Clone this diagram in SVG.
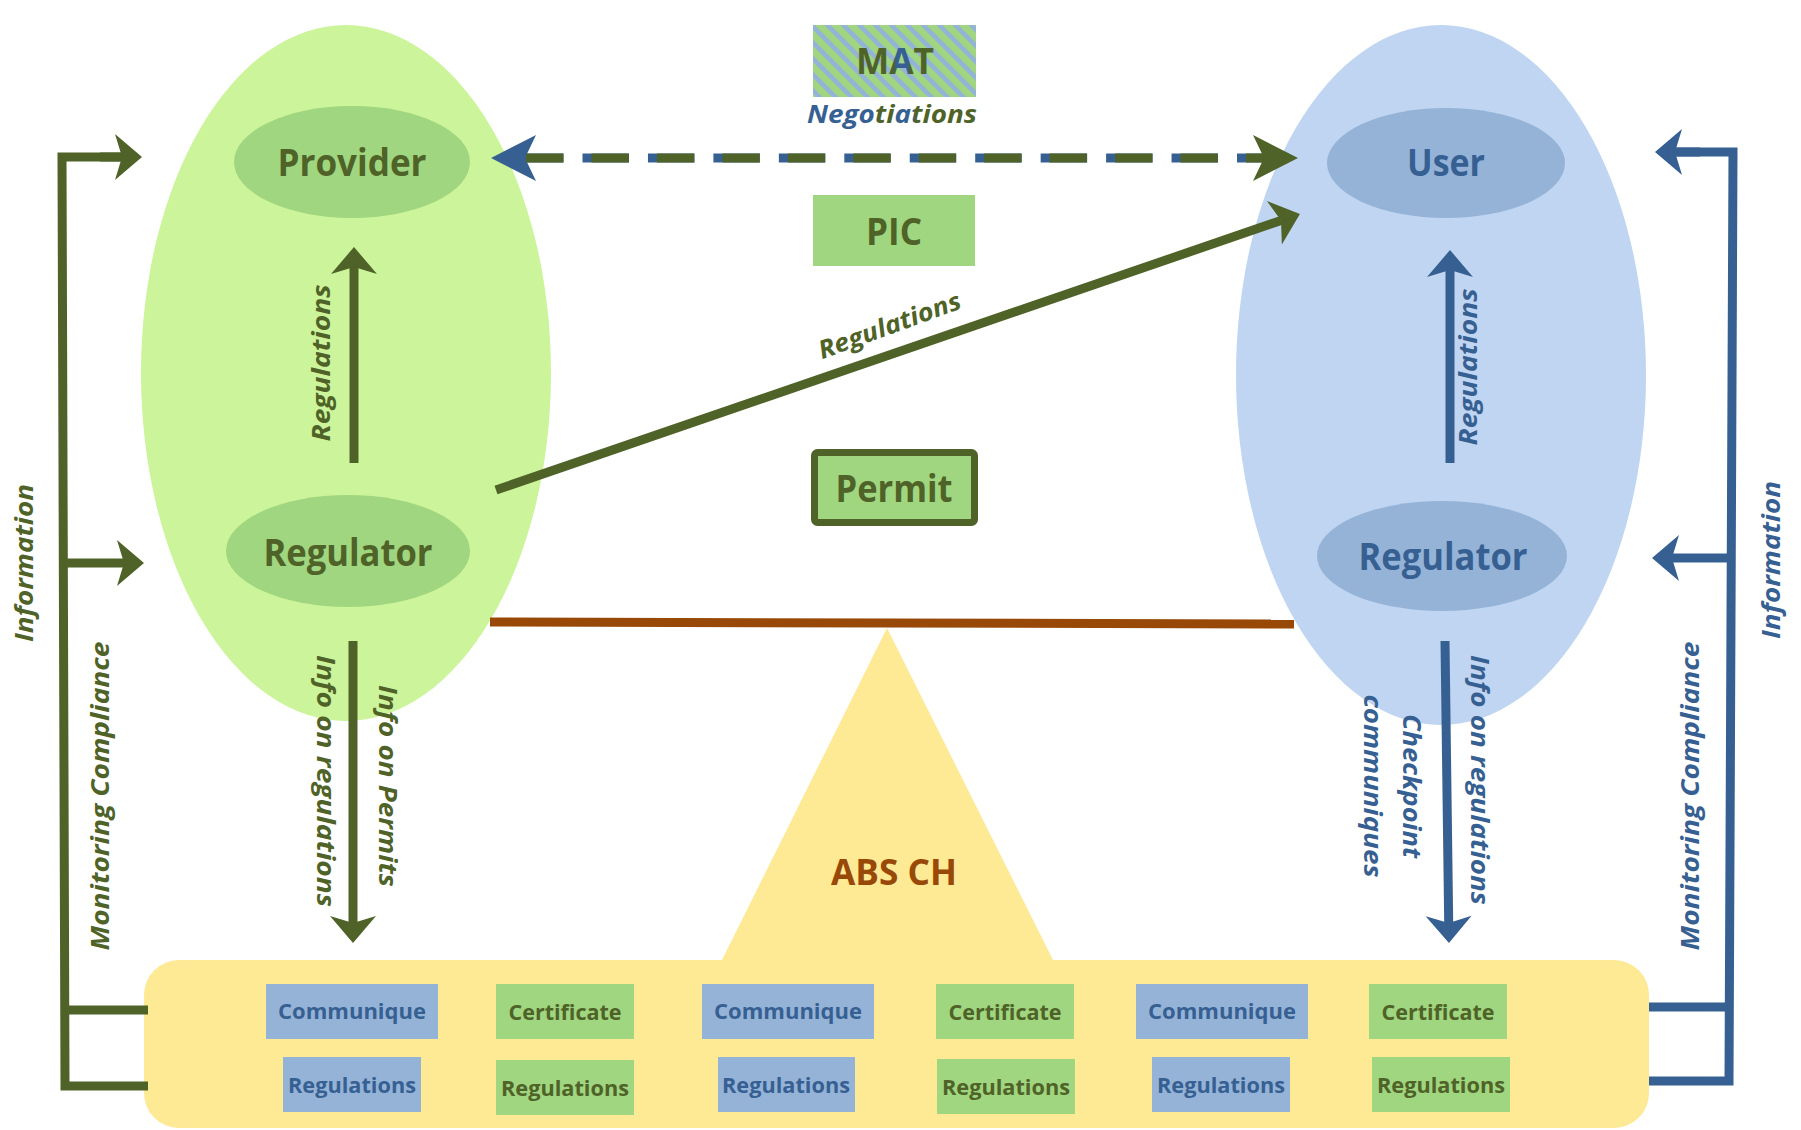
<svg xmlns="http://www.w3.org/2000/svg" width="1801" height="1130" viewBox="0 0 1801 1130">
<defs>
<style>
.lbl{font-family:'Open Sans','Noto Sans',Lato,sans-serif;font-weight:700;text-anchor:middle;}
.it{font-style:italic;}
.g{fill:#4f6228;}
.b{fill:#376092;}
.big{font-size:37px;}
.mid{font-size:25px;}
.box{font-size:22px;}
.cg{stroke:#4f6228;fill:none;stroke-width:9;}
.cb{stroke:#376092;fill:none;stroke-width:9;}
.bxb{fill:#95b3d7;}
.bxg{fill:#9fd67f;}
</style>
<marker id="ag" markerUnits="userSpaceOnUse" orient="auto" refX="7" refY="0" markerWidth="30" markerHeight="50" overflow="visible"><path d="M27,0 L0,-23 L7,0 L0,23 Z" fill="#4f6228"/></marker>
<marker id="ab" markerUnits="userSpaceOnUse" orient="auto" refX="7" refY="0" markerWidth="30" markerHeight="50" overflow="visible"><path d="M27,0 L0,-23 L7,0 L0,23 Z" fill="#376092"/></marker>
<marker id="dg" markerUnits="userSpaceOnUse" orient="auto" refX="11" refY="0" markerWidth="50" markerHeight="50" overflow="visible"><path d="M45,0 L0,-23 L11,0 L0,23 Z" fill="#4f6228"/></marker>
<marker id="db" markerUnits="userSpaceOnUse" orient="auto-start-reverse" refX="11" refY="0" markerWidth="50" markerHeight="50" overflow="visible"><path d="M45,0 L0,-23 L11,0 L0,23 Z" fill="#376092"/></marker>
<pattern id="stripes" patternUnits="userSpaceOnUse" width="11.3" height="40" patternTransform="rotate(-45)"><rect width="11.3" height="40" fill="#9fd67f"/><rect width="4.6" height="40" fill="#95b3d7"/></pattern>
<linearGradient id="matfill" gradientUnits="userSpaceOnUse" x1="856" y1="0" x2="934" y2="0">
<stop offset="0" stop-color="#4f6228"/><stop offset="0.5" stop-color="#4f6228"/><stop offset="0.5" stop-color="#376092"/><stop offset="0.68" stop-color="#376092"/><stop offset="0.68" stop-color="#4f6228"/><stop offset="1" stop-color="#4f6228"/>
</linearGradient>
<linearGradient id="negfill" gradientUnits="userSpaceOnUse" x1="807" y1="0" x2="977" y2="0">
<stop offset="0" stop-color="#376092"/><stop offset="0.41" stop-color="#376092"/><stop offset="0.41" stop-color="#4f6228"/><stop offset="0.52" stop-color="#4f6228"/><stop offset="0.52" stop-color="#376092"/><stop offset="0.63" stop-color="#376092"/><stop offset="0.63" stop-color="#4f6228"/><stop offset="1" stop-color="#4f6228"/>
</linearGradient>
</defs>
<rect width="1801" height="1130" fill="#ffffff"/>

<g id="provider-side">
<ellipse cx="346" cy="373" rx="205" ry="348" fill="#ccf49a"/>
</g>
<g id="user-side">
<ellipse cx="1441" cy="375" rx="205" ry="350" fill="#bfd5f1"/>
</g>

<g id="abs-ch">
<polygon points="887,628 721,962 1054,962" fill="#fee994"/>
<rect x="144" y="960" width="1505" height="168" rx="35" fill="#fee994"/>
<text class="lbl" x="894" y="885" font-size="35" fill="#984807" textLength="126" lengthAdjust="spacingAndGlyphs">ABS CH</text>
</g>

<g id="provider">
<ellipse cx="352" cy="162" rx="118" ry="56" fill="#9fd67f"/>
<text class="lbl big g" x="352" y="176" textLength="149" lengthAdjust="spacingAndGlyphs">Provider</text>
</g>
<g id="regulator-left">
<ellipse cx="348" cy="551" rx="122" ry="56" fill="#9fd67f"/>
<text class="lbl big g" x="348" y="566" textLength="169" lengthAdjust="spacingAndGlyphs">Regulator</text>
</g>
<g id="user">
<ellipse cx="1446" cy="163" rx="119" ry="55" fill="#95b3d7"/>
<text class="lbl big b" x="1446" y="176" textLength="78" lengthAdjust="spacingAndGlyphs">User</text>
</g>
<g id="regulator-right">
<ellipse cx="1442" cy="556" rx="125" ry="55" fill="#95b3d7"/>
<text class="lbl big b" x="1443" y="570" textLength="169" lengthAdjust="spacingAndGlyphs">Regulator</text>
</g>

<g id="mat">
<rect x="813" y="25" width="163" height="72" fill="url(#stripes)"/>
<text class="lbl" x="895" y="74" font-size="36" fill="url(#matfill)" textLength="78" lengthAdjust="spacingAndGlyphs">MAT</text>
<text class="lbl it" x="892" y="123" font-size="25" fill="url(#negfill)" textLength="170" lengthAdjust="spacingAndGlyphs">Negotiations</text>
</g>
<g id="pic">
<rect x="813" y="195" width="162" height="71" fill="#9fd67f"/>
<text class="lbl big g" x="894" y="245" textLength="56" lengthAdjust="spacingAndGlyphs">PIC</text>
</g>
<g id="permit">
<rect x="814.5" y="452.5" width="160" height="70" rx="3" fill="#9fd67f" stroke="#4f6228" stroke-width="7"/>
<text class="lbl big g" x="894" y="502" textLength="117" lengthAdjust="spacingAndGlyphs">Permit</text>
</g>

<g id="boxes">
<rect class="bxb" x="266" y="984" width="172" height="55"/>
<text class="lbl box b" x="352" y="1019" textLength="148" lengthAdjust="spacingAndGlyphs">Communique</text>
<rect class="bxg" x="496" y="984" width="138" height="55"/>
<text class="lbl box g" x="565" y="1020" textLength="113" lengthAdjust="spacingAndGlyphs">Certificate</text>
<rect class="bxb" x="702" y="984" width="172" height="55"/>
<text class="lbl box b" x="788" y="1019" textLength="148" lengthAdjust="spacingAndGlyphs">Communique</text>
<rect class="bxg" x="936" y="984" width="138" height="55"/>
<text class="lbl box g" x="1005" y="1020" textLength="113" lengthAdjust="spacingAndGlyphs">Certificate</text>
<rect class="bxb" x="1136" y="984" width="172" height="55"/>
<text class="lbl box b" x="1222" y="1019" textLength="148" lengthAdjust="spacingAndGlyphs">Communique</text>
<rect class="bxg" x="1369" y="984" width="138" height="55"/>
<text class="lbl box g" x="1438" y="1020" textLength="113" lengthAdjust="spacingAndGlyphs">Certificate</text>

<rect class="bxb" x="283" y="1057" width="138" height="55"/>
<text class="lbl box b" x="352" y="1093" textLength="128" lengthAdjust="spacingAndGlyphs">Regulations</text>
<rect class="bxg" x="496" y="1060" width="138" height="55"/>
<text class="lbl box g" x="565" y="1096" textLength="128" lengthAdjust="spacingAndGlyphs">Regulations</text>
<rect class="bxb" x="718" y="1057" width="137" height="55"/>
<text class="lbl box b" x="786" y="1093" textLength="128" lengthAdjust="spacingAndGlyphs">Regulations</text>
<rect class="bxg" x="937" y="1059" width="138" height="55"/>
<text class="lbl box g" x="1006" y="1095" textLength="128" lengthAdjust="spacingAndGlyphs">Regulations</text>
<rect class="bxb" x="1152" y="1057" width="138" height="55"/>
<text class="lbl box b" x="1221" y="1093" textLength="128" lengthAdjust="spacingAndGlyphs">Regulations</text>
<rect class="bxg" x="1372" y="1057" width="138" height="55"/>
<text class="lbl box g" x="1441" y="1093" textLength="128" lengthAdjust="spacingAndGlyphs">Regulations</text>
</g>

<g id="connectors">
<line x1="490" y1="622" x2="1294" y2="624" stroke="#984807" stroke-width="9"/>
<line x1="525" y1="158" x2="1264" y2="158" stroke="#376092" stroke-width="9" stroke-dasharray="46.5 18.95" stroke-dashoffset="7.95" marker-start="url(#db)"/>
<line x1="525" y1="158" x2="1264" y2="158" stroke="#4f6228" stroke-width="9" stroke-dasharray="37.3 28.15" stroke-dashoffset="-1.05" marker-end="url(#dg)"/>
<line class="cg" x1="496" y1="490" x2="1281" y2="220.5" marker-end="url(#ag)"/>
<line class="cg" x1="354" y1="463" x2="354" y2="267" marker-end="url(#ag)"/>
<line class="cb" x1="1450" y1="463" x2="1450" y2="270" marker-end="url(#ab)"/>
<line class="cg" x1="353" y1="641" x2="353" y2="923" marker-end="url(#ag)"/>
<line class="cb" x1="1445" y1="641" x2="1448.7" y2="923" marker-end="url(#ab)"/>
<path class="cg" stroke-width="10" d="M122,157 L62,157 L65,1086 L148,1086 M65,1010 L148,1010"/>
<line class="cg" x1="64" y1="563" x2="124" y2="563" marker-end="url(#ag)"/>
<line class="cg" x1="100" y1="157" x2="122" y2="157" marker-end="url(#ag)"/>
<path class="cb" stroke-width="10" d="M1675,152 L1733,152 L1729,1081 L1649,1081 M1649,1007 L1729,1007"/>
<line class="cb" x1="1730" y1="558" x2="1672" y2="558" marker-end="url(#ab)"/>
<line class="cb" x1="1700" y1="152" x2="1675" y2="152" marker-end="url(#ab)"/>

<text class="lbl it mid g" transform="translate(890,327) rotate(-20)" y="7" textLength="150" lengthAdjust="spacingAndGlyphs">Regulations</text>
<text class="lbl it mid g" transform="translate(323,363) rotate(-90)" y="7" textLength="157" lengthAdjust="spacingAndGlyphs">Regulations</text>
<text class="lbl it mid b" transform="translate(1470,367) rotate(-90)" y="7" textLength="157" lengthAdjust="spacingAndGlyphs">Regulations</text>
<text class="lbl it mid g" transform="translate(324,781) rotate(90)" y="7" textLength="252" lengthAdjust="spacingAndGlyphs">Info on regulations</text>
<text class="lbl it mid g" transform="translate(388,786) rotate(90)" y="9" textLength="202" lengthAdjust="spacingAndGlyphs">Info on Permits</text>
<text class="lbl it mid b" transform="translate(1478,780) rotate(90)" y="7" textLength="250" lengthAdjust="spacingAndGlyphs">Info on regulations</text>
<text class="lbl it mid b" transform="translate(1410,786) rotate(90)" y="7" textLength="144" lengthAdjust="spacingAndGlyphs">Checkpoint</text>
<text class="lbl it mid b" transform="translate(1371,786) rotate(90)" y="7" textLength="183" lengthAdjust="spacingAndGlyphs">communiques</text>
<text class="lbl it mid g" transform="translate(24,563) rotate(-90)" y="9" textLength="158" lengthAdjust="spacingAndGlyphs">Information</text>
<text class="lbl it mid g" transform="translate(102,796) rotate(-90)" y="7" textLength="309" lengthAdjust="spacingAndGlyphs">Monitoring Compliance</text>
<text class="lbl it mid b" transform="translate(1771,560) rotate(-90)" y="9" textLength="158" lengthAdjust="spacingAndGlyphs">Information</text>
<text class="lbl it mid b" transform="translate(1692,796) rotate(-90)" y="7" textLength="309" lengthAdjust="spacingAndGlyphs">Monitoring Compliance</text>
</g>
</svg>
